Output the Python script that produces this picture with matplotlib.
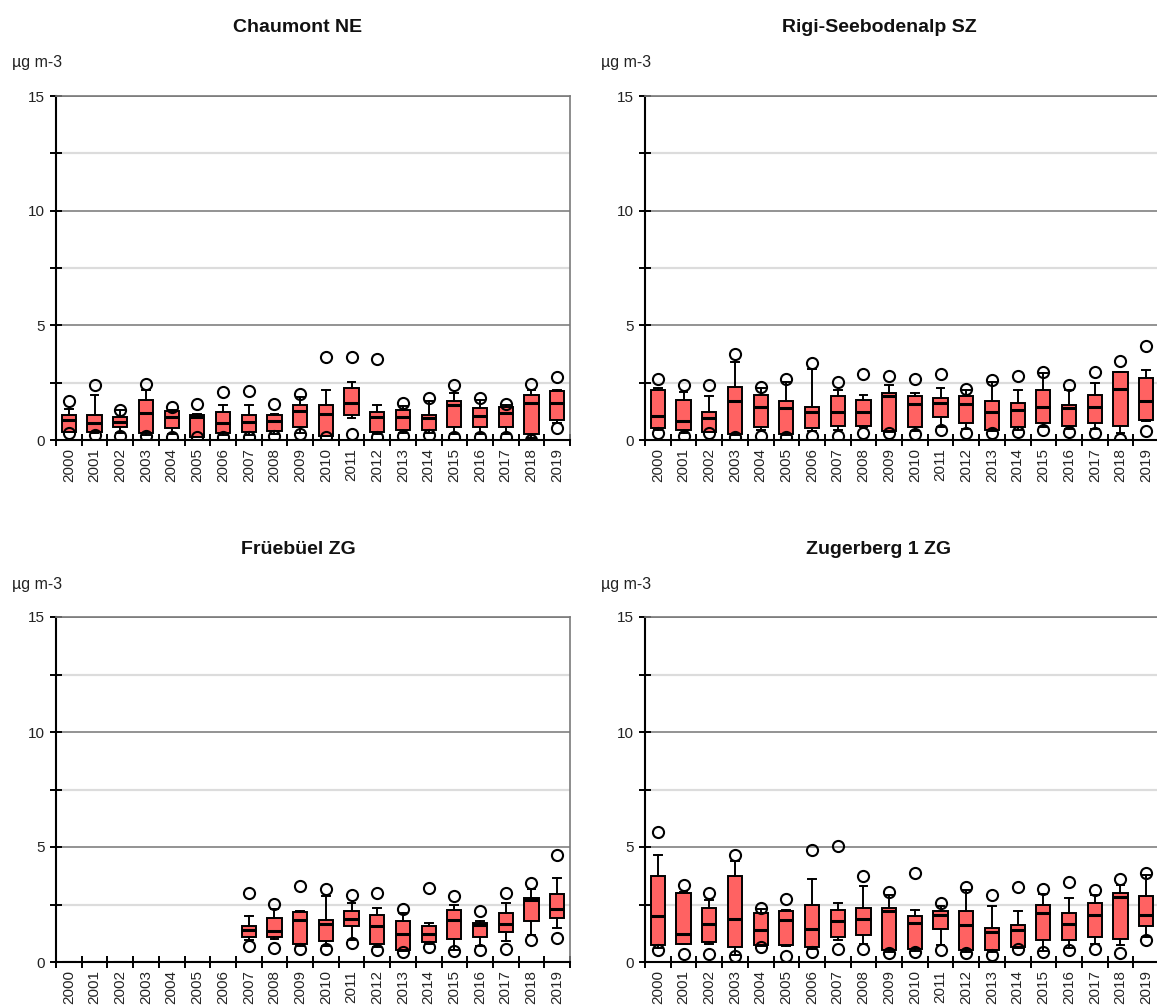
import numpy as np
import matplotlib.pyplot as plt
from matplotlib.ticker import MultipleLocator

plt.rcParams['font.family'] = ['Liberation Sans', 'DejaVu Sans']

years = [str(y) for y in range(2000, 2020)]
unit = 'µg m-3'
nan = np.nan

# per station: min, lower whisker, q1, median, q3, upper whisker, max
chaumont = dict(
    title='Chaumont NE',
    lo=[0.32, 0.22, 0.19, 0.17, 0.15, 0.15, 0.15, 0.15, 0.17, 0.25, 0.15, 0.25, 0.15, 0.17, 0.22, 0.15, 0.15, 0.15, 0.0, 0.51],
    wlo=[0.33, 0.30, 0.30, 0.22, 0.25, 0.15, 0.22, 0.22, 0.25, 0.30, 0.17, 0.95, 0.25, 0.30, 0.30, 0.25, 0.25, 0.25, 0.10, 0.73],
    q1=[0.36, 0.36, 0.58, 0.29, 0.51, 0.15, 0.32, 0.36, 0.41, 0.55, 0.19, 1.09, 0.36, 0.44, 0.44, 0.55, 0.55, 0.55, 0.26, 0.87],
    med=[0.87, 0.76, 0.80, 1.17, 1.02, 0.99, 0.76, 0.80, 0.83, 1.27, 1.14, 1.63, 0.99, 0.99, 0.98, 1.53, 1.05, 1.17, 1.63, 1.63],
    q3=[1.09, 1.09, 1.02, 1.75, 1.27, 1.09, 1.24, 1.09, 1.09, 1.53, 1.53, 2.26, 1.24, 1.31, 1.09, 1.71, 1.38, 1.46, 1.97, 2.14],
    whi=[1.34, 1.97, 1.30, 2.20, 1.30, 1.12, 1.53, 1.53, 1.15, 1.87, 2.19, 2.51, 1.53, 1.49, 1.68, 2.07, 1.75, 1.53, 2.20, 2.16],
    hi=[1.68, 2.38, 1.31, 2.45, 1.43, 1.56, 2.11, 2.14, 1.56, 2.00, 3.64, 3.60, 3.54, 1.60, 1.82, 2.38, 1.82, 1.57, 2.45, 2.73],
)

rigi = dict(
    title='Rigi-Seebodenalp SZ',
    lo=[0.32, 0.19, 0.29, 0.12, 0.19, 0.15, 0.19, 0.19, 0.29, 0.29, 0.25, 0.44, 0.29, 0.32, 0.36, 0.44, 0.36, 0.32, 0.04, 0.41],
    wlo=[0.45, 0.30, 0.33, 0.20, 0.45, 0.22, 0.40, 0.45, 0.55, 0.35, 0.40, 0.58, 0.50, 0.38, 0.45, 0.55, 0.50, 0.50, 0.30, 0.85],
    q1=[0.51, 0.44, 0.36, 0.26, 0.55, 0.26, 0.51, 0.63, 0.63, 0.41, 0.55, 1.02, 0.73, 0.44, 0.58, 0.73, 0.63, 0.73, 0.63, 0.87],
    med=[1.05, 0.83, 0.95, 1.71, 1.46, 1.38, 1.24, 1.24, 1.24, 1.92, 1.57, 1.63, 1.57, 1.24, 1.31, 1.46, 1.38, 1.46, 2.22, 1.68],
    q3=[2.19, 1.75, 1.24, 2.33, 1.97, 1.68, 1.46, 1.90, 1.75, 2.07, 1.90, 1.82, 1.90, 1.68, 1.60, 2.19, 1.53, 1.97, 2.96, 2.70],
    whi=[2.25, 2.11, 1.90, 3.38, 2.26, 2.55, 3.09, 2.16, 1.97, 2.41, 2.07, 2.26, 2.16, 2.55, 2.19, 2.92, 2.16, 2.48, 2.96, 3.06],
    hi=[2.65, 2.41, 2.38, 3.75, 2.33, 2.67, 3.35, 2.55, 2.87, 2.81, 2.67, 2.87, 2.22, 2.62, 2.77, 2.96, 2.38, 2.96, 3.43, 4.11],
)

fruebuel = dict(
    title='Früebüel ZG',
    lo=[nan] * 7 + [0.68, 0.62, 0.58, 0.55, 0.83, 0.51, 0.43, 0.65, 0.50, 0.51, 0.55, 0.94, 1.06],
    wlo=[0.0] * 7 + [0.94, 1.00, 0.70, 0.70, 0.95, 0.65, 0.50, 0.80, 0.54, 0.70, 0.90, 1.16, 1.48],
    q1=[0.0] * 7 + [1.09, 1.09, 0.80, 0.90, 1.55, 0.80, 0.54, 0.87, 1.01, 1.09, 1.30, 1.77, 1.91],
    med=[0.0] * 7 + [1.41, 1.33, 1.81, 1.67, 1.86, 1.57, 1.23, 1.23, 1.84, 1.62, 1.67, 2.71, 2.29],
    q3=[0.0] * 7 + [1.55, 1.91, 2.17, 1.84, 2.20, 2.06, 1.77, 1.55, 2.28, 1.70, 2.14, 2.78, 2.94],
    whi=[0.0] * 7 + [1.99, 2.32, 2.20, 2.86, 2.57, 2.35, 2.13, 1.70, 2.49, 1.77, 2.57, 3.19, 3.67],
    hi=[nan] * 7 + [3.00, 2.54, 3.29, 3.19, 2.90, 3.01, 2.32, 3.22, 2.87, 2.20, 3.00, 3.43, 4.64],
)

zugerberg = dict(
    title='Zugerberg 1 ZG',
    lo=[0.51, 0.36, 0.36, 0.25, 0.65, 0.26, 0.43, 0.55, 0.55, 0.41, 0.43, 0.51, 0.41, 0.32, 0.55, 0.43, 0.54, 0.58, 0.41, 0.97],
    wlo=[0.60, 0.78, 0.80, 0.30, 0.68, 0.70, 0.55, 0.94, 0.80, 0.45, 0.50, 0.72, 0.45, 0.45, 0.60, 0.50, 0.60, 0.80, 0.72, 1.09],
    q1=[0.72, 0.80, 0.87, 0.65, 0.72, 0.72, 0.65, 1.09, 1.16, 0.51, 0.58, 1.45, 0.51, 0.54, 0.65, 0.97, 0.97, 1.09, 1.01, 1.55],
    med=[1.99, 1.23, 1.64, 1.88, 1.41, 1.84, 1.45, 1.78, 1.86, 2.20, 1.70, 2.03, 1.59, 1.30, 1.41, 2.14, 1.67, 2.03, 2.83, 2.03],
    q3=[3.74, 3.01, 2.35, 3.74, 2.14, 2.20, 2.49, 2.28, 2.35, 2.35, 1.99, 2.20, 2.20, 1.48, 1.62, 2.49, 2.14, 2.57, 3.01, 2.86],
    whi=[4.64, 3.05, 2.71, 4.38, 2.32, 2.25, 3.59, 2.57, 3.30, 2.93, 2.28, 2.42, 3.12, 2.42, 2.20, 2.97, 2.80, 2.90, 3.33, 3.77],
    hi=[5.65, 3.33, 3.00, 4.64, 2.36, 2.72, 4.88, 5.03, 3.72, 3.04, 3.88, 2.57, 3.26, 2.90, 3.26, 3.19, 3.48, 3.12, 3.62, 3.87],
)

stations = [chaumont, rigi, fruebuel, zugerberg]

# axes rectangles in pixels (left, top, width, height), title x positions in pixels
W, H = 1157, 1008
rects = [(56, 96, 514, 344), (645, 96, 514, 344),
         (56, 617, 514, 345), (645, 617, 514, 345)]
title_x = [298, 879, 298, 879]

fig = plt.figure(figsize=(W / 100, H / 100), dpi=100)

for st, (l, t, w, h), tx in zip(stations, rects, title_x):
    ax = fig.add_axes([l / W, 1 - (t + h) / H, w / W, h / H])
    stats = []
    for i in range(len(years)):
        fl = [v for v in (st['lo'][i], st['hi'][i]) if not np.isnan(v)]
        stats.append(dict(med=st['med'][i], q1=st['q1'][i], q3=st['q3'][i],
                          whislo=st['wlo'][i], whishi=st['whi'][i],
                          fliers=np.array(fl)))
    ax.bxp(stats, positions=np.arange(len(years)), widths=0.55,
           patch_artist=True, capwidths=0.3,
           boxprops=dict(facecolor='#ff6262', edgecolor='black', linewidth=1.4),
           medianprops=dict(color='black', linewidth=2.2),
           whiskerprops=dict(color='black', linewidth=1.4),
           capprops=dict(color='black', linewidth=1.4),
           flierprops=dict(marker='o', markersize=8, markerfacecolor='none',
                           markeredgecolor='black', markeredgewidth=1.5))

    ax.set_xlim(-0.5, len(years) - 0.5)
    ax.set_ylim(0, 15)
    ax.set_xticks(np.arange(len(years)))
    ax.set_xticklabels(years, rotation=90, fontsize=11, color='#222222')
    ax.tick_params(axis='x', which='major', length=0, pad=6)
    ax.set_xticks(np.arange(-0.5, len(years)), minor=True)
    ax.tick_params(axis='x', which='minor', direction='inout', length=9,
                   width=1.4, color='black')

    ax.yaxis.set_major_locator(MultipleLocator(5))
    ax.yaxis.set_minor_locator(MultipleLocator(2.5))
    ax.tick_params(axis='y', which='both', direction='inout', length=9,
                   width=1.4, labelsize=11, labelcolor='#222222')
    ax.grid(axis='y', which='major', color='#8a8a8a', linewidth=1.3)
    ax.grid(axis='y', which='minor', color='#dcdcdc', linewidth=1.6)
    ax.set_axisbelow(True)

    for side in ('left', 'bottom'):
        ax.spines[side].set_color('black')
        ax.spines[side].set_linewidth(1.5)
    for side in ('top', 'right'):
        ax.spines[side].set_color('#7a7a7a')
        ax.spines[side].set_linewidth(1.2)

    fig.text(tx / W, 1 - (t - 68) / H, st['title'], ha='center', va='center',
             fontsize=14, fontweight='bold', color='#111111')
    fig.text((l - 44) / W, 1 - (t - 33) / H, unit, ha='left', va='center',
             fontsize=11.5, color='#222222')

fig.savefig('out.png', dpi=100)
